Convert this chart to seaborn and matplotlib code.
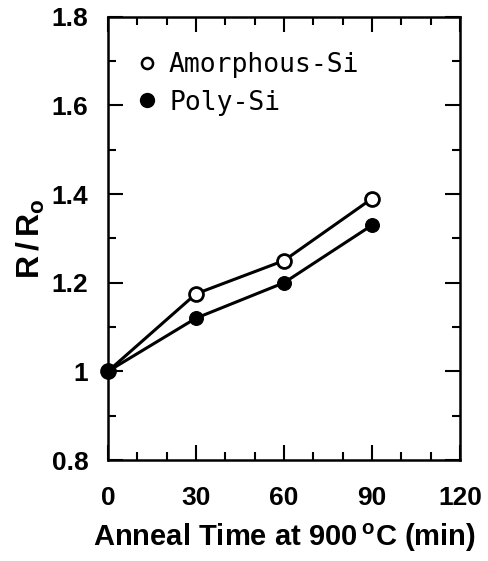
import numpy as np
import pandas as pd
import matplotlib.pyplot as plt
import seaborn as sns
from matplotlib.lines import Line2D
from matplotlib.ticker import MultipleLocator

# anneal time (min) and normalised resistance R/Ro
anneal_time = [0, 30, 60, 90]
amorphous_si = [1.00, 1.175, 1.25, 1.39]
poly_si = [1.00, 1.12, 1.20, 1.33]

x_ticks = [0, 30, 60, 90, 120]
y_ticks = [0.8, 1.0, 1.2, 1.4, 1.6, 1.8]
y_tick_labels = ["0.8", "1", "1.2", "1.4", "1.6", "1.8"]

sns.set_theme(style="ticks")
plt.rcParams["font.family"] = ["Liberation Sans", "DejaVu Sans"]
plt.rcParams["mathtext.fontset"] = "custom"
plt.rcParams["mathtext.rm"] = "Liberation Sans:bold"
plt.rcParams["mathtext.bf"] = "Liberation Sans:bold"
plt.rcParams["text.color"] = "black"
plt.rcParams["axes.labelcolor"] = "black"
plt.rcParams["xtick.color"] = "black"
plt.rcParams["ytick.color"] = "black"

df = pd.DataFrame({
    "time": anneal_time * 2,
    "ratio": amorphous_si + poly_si,
    "film": ["Amorphous-Si"] * 4 + ["Poly-Si"] * 4,
})

fig = plt.figure(figsize=(4.88, 5.61), dpi=100)
ax = fig.add_axes([0.221, 0.18, 0.722, 0.79])

sns.lineplot(data=df[df.film == "Amorphous-Si"], x="time", y="ratio", ax=ax,
             color="black", linewidth=2.2, marker="o", markersize=10,
             markerfacecolor="white", markeredgecolor="black", markeredgewidth=2,
             clip_on=False, zorder=3)
sns.lineplot(data=df[df.film == "Poly-Si"], x="time", y="ratio", ax=ax,
             color="black", linewidth=2.2, marker="o", markersize=10,
             markerfacecolor="black", markeredgecolor="black",
             clip_on=False, zorder=4)

ax.set_xlim(0, 120)
ax.set_ylim(0.8, 1.8)
ax.set_xticks(x_ticks)
ax.set_yticks(y_ticks)
ax.set_yticklabels(y_tick_labels)
ax.xaxis.set_minor_locator(MultipleLocator(10))
ax.yaxis.set_minor_locator(MultipleLocator(0.1))
ax.tick_params(which="both", direction="in", top=True, right=True, width=1.5)
ax.tick_params(which="major", length=11, labelsize=19)
ax.tick_params(axis="x", which="major", pad=19)
ax.tick_params(axis="y", which="major", pad=14)
ax.tick_params(which="minor", length=6)
for lab in ax.get_xticklabels() + ax.get_yticklabels():
    lab.set_fontweight("bold")
for s in ax.spines.values():
    s.set_linewidth(1.8)
    s.set_color("black")

ax.set_xlabel(r"Anneal Time at 900$\,^{\mathrm{o}}$C (min)", fontsize=21,
              fontweight="bold", labelpad=8)
ax.set_ylabel(r"$\mathbf{R\,/\,R_o}$", fontsize=23, labelpad=3)

handles = [
    Line2D([], [], ls="none", marker="o", markersize=8, markerfacecolor="white",
           markeredgecolor="black", markeredgewidth=1.8),
    Line2D([], [], ls="none", marker="o", markersize=10, markerfacecolor="black",
           markeredgecolor="black"),
]
ax.legend(handles, ["Amorphous-Si", "Poly-Si"], loc="upper left", frameon=False,
          prop={"family": "DejaVu Sans Mono", "size": 19}, handlelength=0.8,
          handletextpad=0.45, borderaxespad=0.0, labelspacing=0.45,
          bbox_to_anchor=(0.05, 0.945))

fig.savefig("out.png", dpi=100)
